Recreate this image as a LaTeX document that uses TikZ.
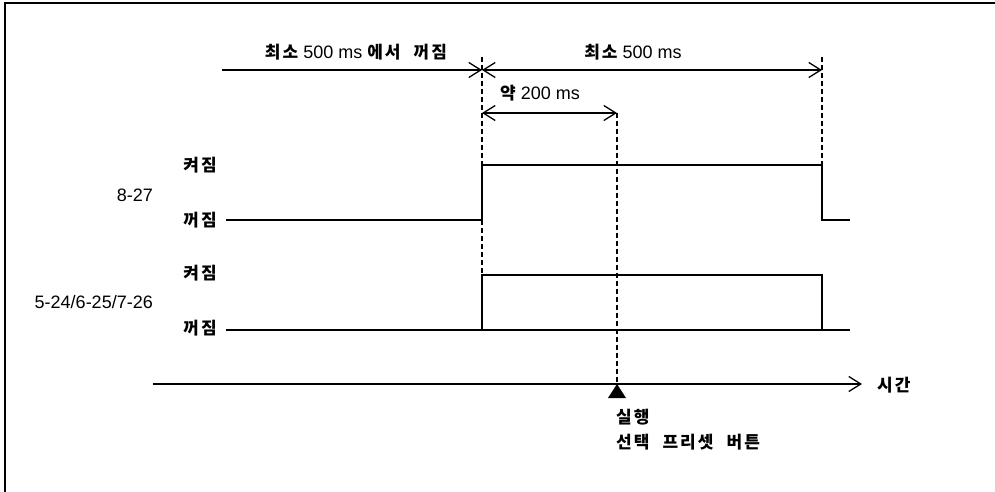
\documentclass[tikz,border=0pt]{standalone}
\usepackage{fontspec}
\setmainfont{Liberation Sans}
\newfontfamily\krfont[LetterSpace=12,WordSpace=2.2]{Noto Sans CJK KR}
\usetikzlibrary{arrows.meta,positioning}
\newcommand{\kr}[1]{{\krfont\bfseries\fontsize{17}{20}\selectfont #1}}
\tikzset{>={Straight Barb[length=12pt,width=15pt]},
         signal/.style={line width=1.3pt},
         guide/.style={line width=1.1pt,dash pattern=on 5pt off 3pt},
         txt/.style={inner sep=0pt,font=\fontsize{18}{21}\selectfont},
         level/.style={txt,anchor=east},
         pin/.style={txt,anchor=west,align=left}}

\begin{document}
\begin{tikzpicture}[x=1pt,y=-1pt]
  \useasboundingbox (0,0) rectangle (995,492);
  % frame
  \draw[line width=1.6pt] (5,492) -- (5,3) -- (995,3);
  % level labels
  \node[level] (on1)  at (217,165) {\kr{켜짐}};
  \node[level] (off1) at (217,220) {\kr{꺼짐}};
  \node[level] (on2)  at (217,273) {\kr{켜짐}};
  \node[level] (off2) at (217,328) {\kr{꺼짐}};
  \node[level] (sig1) at (153,195) {8-27};
  \node[level] (sig2) at (153,302) {5-24/6-25/7-26};
  % time marks
  \coordinate (t0) at (222,70);
  \coordinate (t1) at (482,70);
  \coordinate (t2) at (822,70);
  \coordinate (s1) at (482,113);
  \coordinate (s2) at (617,113);
  \node[txt] (offmin) at (356,52) {\kr{최소} 500 ms \kr{에서 꺼짐}};
  \node[txt] (onmin)  at (633,52) {\kr{최소} 500 ms};
  \node[txt] (about)  at (540,93) {\kr{약} 200 ms};
  \draw[signal,->]  (t0) -- (t1);
  \draw[signal,<->] (t1) -- (t2);
  \draw[signal,<->] (s1) -- (s2);
  % signal 8-27
  \coordinate (a0) at (226,220);
  \coordinate (a1) at (482,220);
  \coordinate (a2) at (482,165);
  \coordinate (a3) at (822,165);
  \coordinate (a4) at (822,220);
  \coordinate (a5) at (850,220);
  \draw[signal] (a0) -- (a1) -- (a2) -- (a3) -- (a4) -- (a5);
  % signal 5-24/6-25/7-26
  \coordinate (b0) at (226,330);
  \coordinate (b1) at (482,275);
  \coordinate (b2) at (822,275);
  \coordinate (b3) at (850,330);
  \draw[signal] (b0) -- (b3);
  \draw[signal] (b0 -| b1) -- (b1) -- (b2) -- (b2 |- b0);
  % time axis
  \coordinate (x0) at (153,384);
  \coordinate (x1) at (862,384);
  \coordinate (go) at (617,384);
  \draw[signal,->] (x0) -- (x1);
  \node[txt,anchor=west] (time) at (877,385) {\kr{시간}};
  \fill (go) -- ++(9,14) -- ++(-18,0) -- cycle;
  \node[pin] (press) at (616,430) {\kr{실행}\\[4pt]\kr{선택 프리셋 버튼}};
  % guides
  \draw[guide] (482,57) -- (a2);
  \draw[guide] (a1) -- (b1);
  \draw[guide] (822,57) -- (a3);
  \draw[guide] (s2) -- (go);
\end{tikzpicture}
\end{document}
